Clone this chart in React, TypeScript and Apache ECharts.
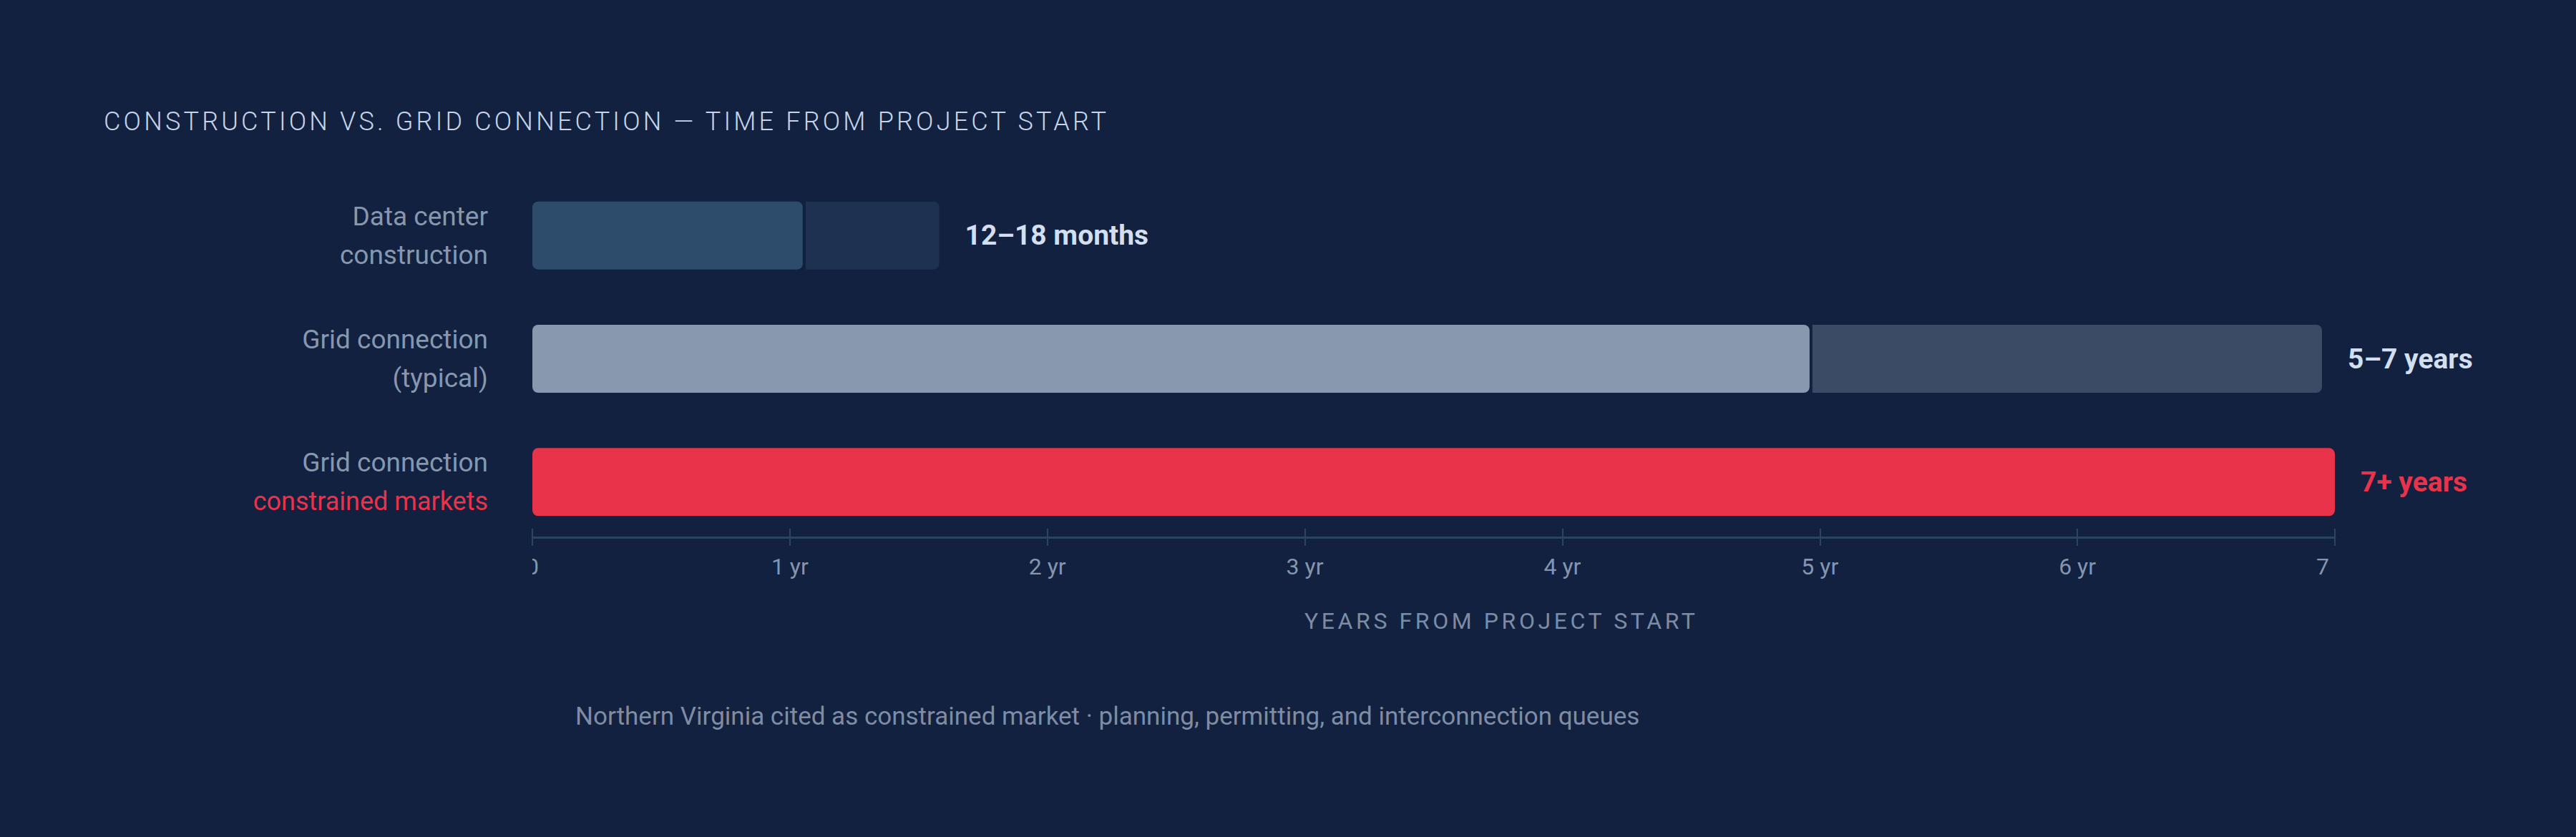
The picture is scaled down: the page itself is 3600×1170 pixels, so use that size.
import React, { useEffect, useRef } from "react";
import * as echarts from "echarts";

// ---------- data ----------
const categoryLines: string[][] = [
  ["Data center", "construction"],
  ["Grid connection", "(typical)"],
  ["Grid connection", "constrained markets"],
];
// end of the solid (lower-bound) segment, years
const solidEnd = [1.05, 4.96, 7.0];
// end of the range (upper-bound) segment, years
const rangeEnd = [1.58, 6.95, 7.0];
const rangeLabels = ["12–18 months", "5–7 years", "7+ years"];
const xTickValues = [0, 1, 2, 3, 4, 5, 6, 7];
const titleText = "CONSTRUCTION VS. GRID CONNECTION — TIME FROM PROJECT START";
const axisTitle = "YEARS FROM PROJECT START";
const footnote =
  "Northern Virginia cited as constrained market · planning, permitting, and interconnection queues";

// ---------- styles ----------
const W = 3600;
const H = 1170;
const BG = "#11213f";
const FONT = "Roboto, 'Noto Sans', sans-serif";
const solidColors = ["#2d4b6b", "#8898ae", "#e8334a"];
const rangeColors = ["#1e3150", "#3b4b66", "#e8334a"];
const valueLabelColors = ["#d3dfef", "#d3dfef", "#e8334a"];
const RED = "#e8334a";
const GRAY = "#8797ad";
const AXIS = "#2b4464";

const PLOT_LEFT = 744;
const PLOT_RIGHT = 3263;

function buildOption(): any {
  const data = categoryLines.map((_, i) => [i, solidEnd[i], rangeEnd[i]]);
  return {
    animation: false,
    backgroundColor: BG,
    grid: {
      left: PLOT_LEFT,
      right: W - PLOT_RIGHT,
      top: 243,
      height: 517,
      containLabel: false,
    },
    xAxis: [
      {
        type: "value",
        min: 0,
        max: 7,
        interval: 1,
        position: "bottom",
        offset: -9,
        axisLine: { show: true, lineStyle: { color: AXIS, width: 3 } },
        axisTick: { show: true, inside: false, length: 12, lineStyle: { color: AXIS, width: 2 } },
        axisLabel: {
          show: true,
          margin: 25,
          color: "#8595ad",
          fontSize: 32,
          fontFamily: FONT,
          formatter: (v: number) => (v === 0 ? "0" : `${v} yr`),
          customValues: xTickValues,
        },
        splitLine: { show: false },
      },
      {
        type: "value",
        min: 0,
        max: 7,
        interval: 1,
        position: "bottom",
        offset: -9,
        axisLine: { show: false },
        axisTick: { show: true, inside: true, length: 12, lineStyle: { color: AXIS, width: 2 } },
        axisLabel: { show: false },
        splitLine: { show: false },
      },
    ],
    yAxis: {
      type: "category",
      inverse: true,
      data: categoryLines.map((l) => l.join("\n")),
      axisLine: { show: false },
      axisTick: { show: false },
      splitLine: { show: false },
      axisLabel: {
        margin: 62,
        align: "right",
        fontFamily: FONT,
        fontSize: 37,
        lineHeight: 54,
        color: GRAY,
        formatter: (_: string, idx: number) => {
          const [a, b] = categoryLines[idx];
          return idx === 2 ? `{a|${a}}\n{r|${b}}` : `{a|${a}}\n{a|${b}}`;
        },
        rich: {
          a: { color: GRAY, fontSize: 37, lineHeight: 54, fontFamily: FONT, align: "right" },
          r: { color: RED, fontSize: 36, lineHeight: 54, fontFamily: FONT, align: "right" },
        },
      },
    },
    series: [
      {
        type: "custom",
        xAxisIndex: 0,
        clip: false,
        encode: { x: [1, 2], y: 0 },
        data,
        renderItem: (_params: any, api: any) => {
          const i = api.value(0);
          const s = api.value(1);
          const e = api.value(2);
          const p0 = api.coord([0, i]);
          const pm = api.coord([s, i]);
          const pe = api.coord([e, i]);
          const h = 95;
          const y = p0[1] - h / 2;
          const children: any[] = [
            {
              type: "rect",
              shape: { x: p0[0], y, width: pm[0] - p0[0], height: h, r: 8 },
              style: { fill: solidColors[i] },
            },
          ];
          if (e > s) {
            children.push({
              type: "rect",
              shape: { x: pm[0] + 4, y, width: pe[0] - pm[0] - 4, height: h, r: [0, 8, 8, 0] },
              style: { fill: rangeColors[i] },
            });
          }
          children.push({
            type: "text",
            x: pe[0] + 36,
            y: p0[1],
            style: {
              text: rangeLabels[i],
              fill: valueLabelColors[i],
              fontSize: 39,
              fontWeight: "bold",
              fontFamily: FONT,
              align: "left",
              verticalAlign: "middle",
            },
          });
          return { type: "group", children };
        },
      },
    ],
    graphic: [
      {
        type: "text",
        x: 145,
        y: 170,
        z: 100,
        style: {
          text: titleText,
          fill: "#c6d4e8",
          fontSize: 36,
          fontFamily: FONT,
          fontWeight: 300,
          align: "left",
          verticalAlign: "middle",
        },
      },
      // clip edges of the tick-label row to the plot width
      {
        type: "rect",
        z: 100,
        shape: { x: PLOT_LEFT - 50, y: 772, width: 50, height: 48 },
        style: { fill: BG },
      },
      {
        type: "rect",
        z: 100,
        shape: { x: PLOT_RIGHT, y: 772, width: 60, height: 48 },
        style: { fill: BG },
      },
      {
        type: "text",
        x: 1823,
        y: 868,
        z: 100,
        style: {
          text: axisTitle,
          fill: "#7b8ca6",
          fontSize: 32,
          fontFamily: FONT,
          align: "left",
          verticalAlign: "middle",
        },
      },
      {
        type: "text",
        x: 804,
        y: 1001,
        z: 100,
        style: {
          text: footnote,
          fill: "#7e8ca4",
          fontSize: 35,
          fontFamily: FONT,
          align: "left",
          verticalAlign: "middle",
        },
      },
    ],
  };
}

const letterSpacing: Record<string, string> = {
  [titleText]: "4.2px",
  [axisTitle]: "4.6px",
};

export default function App() {
  const ref = useRef<HTMLDivElement>(null);
  useEffect(() => {
    document.body.style.margin = "0";
    document.body.style.background = BG;
    const chart = echarts.init(ref.current!, null, { renderer: "svg", width: W, height: H });
    chart.setOption(buildOption());
    const applySpacing = () => {
      ref.current?.querySelectorAll("text").forEach((t) => {
        const ls = letterSpacing[t.textContent || ""];
        if (ls) t.setAttribute("letter-spacing", ls);
      });
    };
    applySpacing();
    chart.on("finished", applySpacing);
    return () => chart.dispose();
  }, []);
  return <div ref={ref} style={{ width: W, height: H, background: BG }} />;
}
